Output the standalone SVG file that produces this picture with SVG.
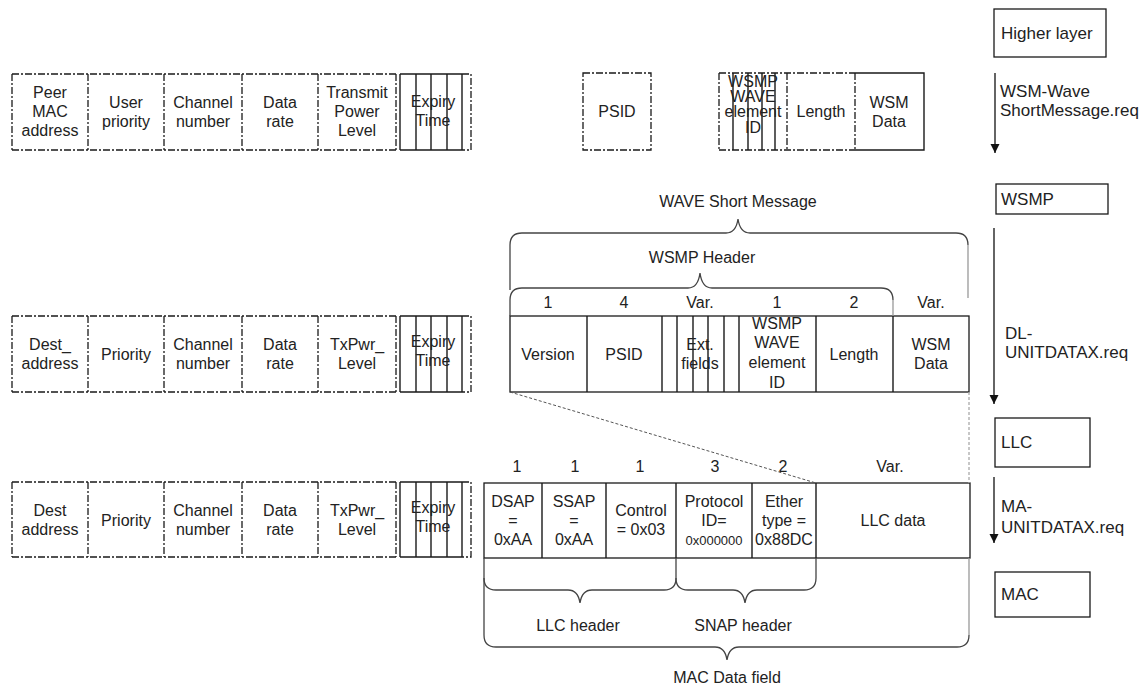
<svg xmlns="http://www.w3.org/2000/svg" width="1148" height="686" viewBox="0 0 1148 686">
<defs>
<style>
.bg{fill:#fff}
.dd{fill:none;stroke:#1a1a1a;stroke-width:1.3;stroke-dasharray:7 2 2 2}
.sl{fill:none;stroke:#1a1a1a;stroke-width:1.4}
.bx{fill:#fff;stroke:#1a1a1a;stroke-width:1.3}
.br{fill:none;stroke:#444;stroke-width:1.3}
.brl{fill:none;stroke:#999;stroke-width:1.3}
.dot{fill:none;stroke:#555;stroke-width:1;stroke-dasharray:3 2}
.dotl{fill:none;stroke:#aaa;stroke-width:1.3;stroke-dasharray:3 2}
.ar{fill:none;stroke:#111;stroke-width:1.3;marker-end:url(#ah)}
text{font-family:"Liberation Sans",Arial,sans-serif;font-size:16px;fill:#222;text-anchor:middle}
.sm{font-size:13px}
.rt{font-size:17px;text-anchor:start}
</style>
<marker id="ah" viewBox="0 0 10 10" refX="10" refY="5" markerWidth="9" markerHeight="11" markerUnits="userSpaceOnUse" orient="auto">
<path d="M0,0 L10,5 L0,10 z" fill="#111"/>
</marker>
</defs>
<rect class="bg" x="0" y="0" width="1148" height="686"/>

<!-- Row 1: WSM-WaveShortMessage.req parameters -->
<g id="row1-params">
<path class="dd" d="M12,74 H396 M12,150 H396 M12,74 V150 M88,74 V150 M164,74 V150 M242,74 V150 M318,74 V150 M396,74 V150 M462,74 H471 V150 H462"/>
<path class="sl" d="M400,74 H462 M400,150 H462 M400,74 V150 M416,74 V150 M431,74 V150 M447,74 V150 M462,74 V150"/>
<text x="50" y="98">Peer</text><text x="50" y="117">MAC</text><text x="50" y="136">address</text>
<text x="126" y="108">User</text><text x="126" y="127">priority</text>
<text x="203" y="108">Channel</text><text x="203" y="127">number</text>
<text x="280" y="108">Data</text><text x="280" y="127">rate</text>
<text x="357" y="98">Transmit</text><text x="357" y="117">Power</text><text x="357" y="136">Level</text>
<text x="433" y="107">Expiry</text><text x="433" y="126">Time</text>
</g>
<g id="row1-psid">
<rect class="dd" x="583" y="73" width="68" height="77"/>
<text x="617" y="117">PSID</text>
</g>
<g id="row1-wsm">
<path class="dd" d="M719,73 H855 M719,150 H855 M719,73 V150 M787,73 V150 M855,73 V150"/>
<path class="sl" d="M733,73 V150 M748,73 V150 M762,73 V150 M775,73 V150 M855,73 H924 V150 H855"/>
<text x="753" y="87" font-size="15">WSMP</text><text x="753" y="102" font-size="15">WAVE</text><text x="753" y="117" font-size="15">element</text><text x="753" y="133" font-size="15">ID</text>
<text x="821" y="117">Length</text>
<text x="889" y="108">WSM</text><text x="889" y="127">Data</text>
</g>

<!-- Row 2: DL-UNITDATAX.req parameters -->
<g id="row2-params">
<path class="dd" d="M12,316 H396 M12,392 H396 M12,316 V392 M88,316 V392 M164,316 V392 M242,316 V392 M318,316 V392 M396,316 V392 M462,316 H471 V392 H462"/>
<path class="sl" d="M400,316 H462 M400,392 H462 M400,316 V392 M416,316 V392 M431,316 V392 M447,316 V392 M462,316 V392"/>
<text x="50" y="350">Dest_</text><text x="50" y="369">address</text>
<text x="126" y="360">Priority</text>
<text x="203" y="350">Channel</text><text x="203" y="369">number</text>
<text x="280" y="350">Data</text><text x="280" y="369">rate</text>
<text x="357" y="350">TxPwr_</text><text x="357" y="369">Level</text>
<text x="433" y="347">Expiry</text><text x="433" y="366">Time</text>
</g>
<g id="row2-wsm">
<rect class="bx" x="510" y="316" width="459" height="76"/>
<path class="sl" d="M587,316 V392 M662,316 V392 M677,316 V392 M693,316 V392 M708,316 V392 M724,316 V392 M739,316 V392 M816,316 V392 M893,316 V392"/>
<text x="548" y="360">Version</text>
<text x="624" y="360">PSID</text>
<text x="700" y="350">Ext.</text><text x="700" y="369">fields</text>
<text x="777" y="329">WSMP</text><text x="777" y="348">WAVE</text><text x="777" y="368">element</text><text x="777" y="388">ID</text>
<text x="854" y="360">Length</text>
<text x="931" y="350">WSM</text><text x="931" y="369">Data</text>
<text x="548" y="308">1</text><text x="624" y="308">4</text><text x="700" y="308">Var.</text><text x="777" y="308">1</text><text x="854" y="308">2</text><text x="931" y="308">Var.</text>
</g>

<!-- Row 3: MA-UNITDATAX.req parameters -->
<g id="row3-params">
<path class="dd" d="M12,482 H396 M12,557 H396 M12,482 V557 M88,482 V557 M164,482 V557 M242,482 V557 M318,482 V557 M396,482 V557 M462,482 H471 V557 H462"/>
<path class="sl" d="M400,482 H462 M400,557 H462 M400,482 V557 M416,482 V557 M431,482 V557 M447,482 V557 M462,482 V557"/>
<text x="50" y="516">Dest</text><text x="50" y="535">address</text>
<text x="126" y="526">Priority</text>
<text x="203" y="516">Channel</text><text x="203" y="535">number</text>
<text x="280" y="516">Data</text><text x="280" y="535">rate</text>
<text x="357" y="516">TxPwr_</text><text x="357" y="535">Level</text>
<text x="433" y="513">Expiry</text><text x="433" y="532">Time</text>
</g>
<g id="row3-llc">
<rect class="bx" x="484" y="483" width="486" height="75"/>
<path class="sl" d="M542,483 V558 M606,483 V558 M676,483 V558 M752,483 V558 M816,483 V558"/>
<text x="513" y="507">DSAP</text><text x="513" y="526">=</text><text x="513" y="545">0xAA</text>
<text x="574" y="507">SSAP</text><text x="574" y="526">=</text><text x="574" y="545">0xAA</text>
<text x="641" y="516">Control</text><text x="641" y="535">= 0x03</text>
<text x="714" y="507">Protocol</text><text x="714" y="526">ID=</text><text class="sm" x="714" y="545">0x000000</text>
<text x="784" y="507">Ether</text><text x="784" y="526">type =</text><text x="784" y="545">0x88DC</text>
<text x="893" y="526">LLC data</text>
<text x="517" y="472">1</text><text x="575" y="472">1</text><text x="640" y="472">1</text><text x="715" y="472">3</text><text x="783" y="472">2</text><text x="890" y="472">Var.</text>
</g>

<!-- Braces -->
<g id="brace-wsm">
<path class="br" d="M510,290 V245 Q510,233 522,233 H726 Q736,233 738,219 Q740,233 750,233 H956 Q968,233 968,245"/>
<path class="brl" d="M968,245 V298"/>
<text x="738" y="207">WAVE Short Message</text>
</g>
<g id="brace-wsmp-header">
<path class="br" d="M510,316 V300 Q510,288 522,288 H688 Q698,288 700,273 Q702,288 712,288 H881 Q893,288 893,300"/>
<path class="brl" d="M893,300 V316"/>
<text x="702" y="263">WSMP Header</text>
</g>
<g id="brace-llc-header">
<path class="br" d="M484,558 V578 Q484,590 496,590 H568 Q578,590 580,603 Q582,590 592,590 H664 Q676,590 676,578 V558"/>
<text x="578" y="631">LLC header</text>
</g>
<g id="brace-snap-header">
<path class="br" d="M676,578 Q676,590 688,590 H733 Q743,590 745,603 Q747,590 757,590 H804 Q816,590 816,578 V558"/>
<text x="743" y="631">SNAP header</text>
</g>
<g id="brace-mac-data">
<path class="br" d="M484,578 V635 Q484,647 496,647 H715 Q725,647 727,660 Q729,647 739,647 H957 Q969,647 969,635"/>
<path class="brl" d="M969,635 V558"/>
<text x="727" y="683">MAC Data field</text>
</g>

<!-- Layers -->
<g id="higher-layer"><rect class="bx" x="994" y="9" width="112" height="48"/><text class="rt" x="1001" y="39">Higher layer</text></g>
<g id="wsmp-layer"><rect class="bx" x="996" y="184" width="112" height="30"/><text class="rt" x="1001" y="205">WSMP</text></g>
<g id="llc-layer"><rect class="bx" x="995" y="418" width="95" height="49"/><text class="rt" x="1001" y="448">LLC</text></g>
<g id="mac-layer"><rect class="bx" x="995" y="572" width="95" height="45"/><text class="rt" x="1001" y="600">MAC</text></g>

<!-- Connectors -->
<g id="connectors">
<line class="ar" x1="995" y1="73" x2="995" y2="153"/>
<line class="ar" x1="994" y1="228" x2="994" y2="404"/>
<line class="ar" x1="994" y1="477" x2="994" y2="543"/>
<line class="dot" x1="510" y1="392" x2="816" y2="483"/>
<line class="dotl" x1="969" y1="392" x2="969" y2="483"/>
<text class="rt" x="1000" y="97">WSM-Wave</text>
<text class="rt" x="1000" y="116">ShortMessage.req</text>
<text class="rt" x="1005" y="339">DL-</text>
<text class="rt" x="1005" y="358">UNITDATAX.req</text>
<text class="rt" x="1001" y="512">MA-</text>
<text class="rt" x="1001" y="533">UNITDATAX.req</text>
</g>
</svg>
